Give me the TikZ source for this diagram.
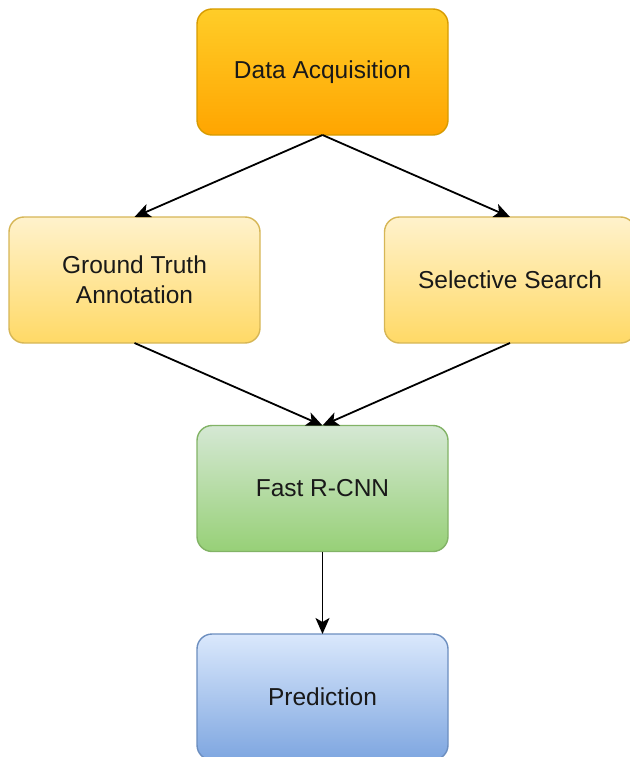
\documentclass[tikz,border=0pt]{standalone}
\usepackage{fontspec}
\setmainfont{Liberation Sans}
\usetikzlibrary{arrows.meta}

\definecolor{orangeTop}{HTML}{FFCD28}
\definecolor{orangeBot}{HTML}{FFA500}
\definecolor{orangeLine}{HTML}{D79B00}
\definecolor{yellowTop}{HTML}{FFF2CC}
\definecolor{yellowBot}{HTML}{FFD966}
\definecolor{yellowLine}{HTML}{D6B656}
\definecolor{greenTop}{HTML}{D5E8D4}
\definecolor{greenBot}{HTML}{97D077}
\definecolor{greenLine}{HTML}{82B366}
\definecolor{blueTop}{HTML}{DAE8FC}
\definecolor{blueBot}{HTML}{7EA6E0}
\definecolor{blueLine}{HTML}{6C8EBF}

\tikzset{
  stagebox/.style={rectangle, rounded corners=15pt, minimum width=251pt,
    minimum height=126pt, inner sep=0pt, outer sep=0pt, line width=1.4pt,
    align=center, font=\fontsize{24.5}{30}\selectfont, text=black!90},
  orangebox/.style={stagebox, draw=orangeLine, top color=orangeTop, bottom color=orangeBot},
  yellowbox/.style={stagebox, draw=yellowLine, top color=yellowTop, bottom color=yellowBot},
  greenbox/.style={stagebox, draw=greenLine, top color=greenTop, bottom color=greenBot},
  bluebox/.style={stagebox, draw=blueLine, top color=blueTop, bottom color=blueBot},
  flow/.style={line width=1.8pt, draw=black, -{Stealth[length=16pt, width=14pt, inset=4pt]}}
}

\begin{document}
\begin{tikzpicture}[x=1pt, y=-1pt]
  \useasboundingbox (0,0) rectangle (629,757);

  \node[orangebox] (acq) at (322.5,72) {\raisebox{-3pt}{Data Acquisition}};
  \node[yellowbox] (gt)  at (134.5,280) {Ground Truth\\Annotation};
  \node[yellowbox] (ss)  at (510,280) {Selective Search};
  \node[greenbox]  (frc) at (322.5,488.5) {Fast R-CNN};
  \node[bluebox]   (pred) at (322.5,697) {Prediction};

  \draw[flow] (acq.south) -- (gt.north);
  \draw[flow] (acq.south) -- (ss.north);
  \draw[flow] (gt.south) -- (frc.north);
  \draw[flow] (ss.south) -- (frc.north);
  \draw[flow] (frc.south) -- (pred.north);
\end{tikzpicture}
\end{document}
